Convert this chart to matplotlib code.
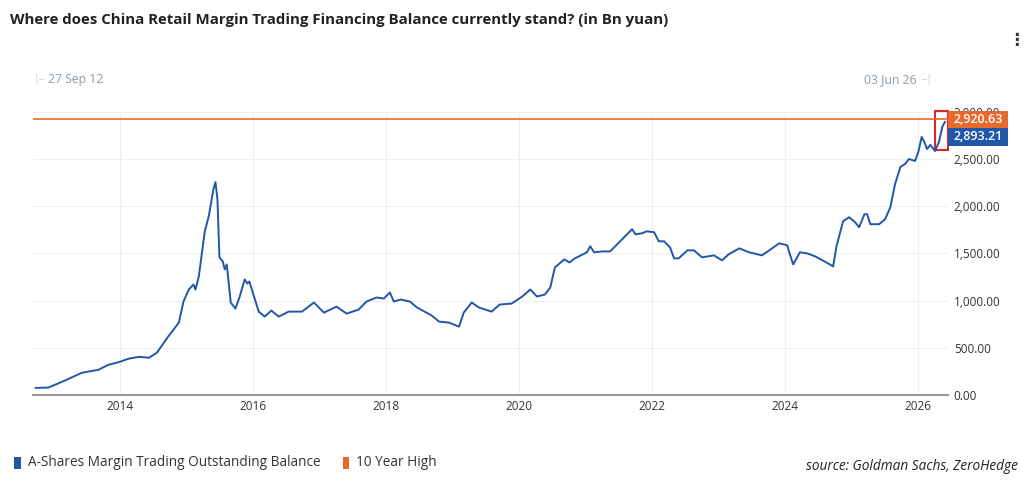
import matplotlib.pyplot as plt
from matplotlib.patches import Rectangle

plt.rcParams['font.family'] = ['Open Sans', 'DejaVu Sans']

# decimal years, values in Bn yuan
years = [2012.74, 2012.93, 2013.17, 2013.43, 2013.55, 2013.68, 2013.83, 2014.00, 2014.13, 2014.29,
         2014.44, 2014.56, 2014.74, 2014.89, 2014.96, 2015.04, 2015.11, 2015.14, 2015.19, 2015.28,
         2015.34, 2015.41, 2015.44, 2015.47, 2015.50, 2015.55, 2015.58, 2015.61, 2015.67, 2015.74,
         2015.80, 2015.88, 2015.92, 2015.95, 2016.01, 2016.09, 2016.18, 2016.28, 2016.39, 2016.54,
         2016.74, 2016.92, 2017.07, 2017.26, 2017.41, 2017.59, 2017.71, 2017.86, 2017.97, 2018.06,
         2018.12, 2018.22, 2018.36, 2018.47, 2018.69, 2018.80, 2018.95, 2019.10, 2019.17, 2019.29,
         2019.40, 2019.59, 2019.71, 2019.89, 2020.05, 2020.17, 2020.27, 2020.39, 2020.47, 2020.54,
         2020.68, 2020.76, 2020.84, 2021.02, 2021.07, 2021.13, 2021.25, 2021.37, 2021.55, 2021.70,
         2021.75, 2021.85, 2021.92, 2022.03, 2022.10, 2022.18, 2022.27, 2022.33, 2022.40, 2022.53,
         2022.63, 2022.75, 2022.93, 2023.05, 2023.15, 2023.31, 2023.46, 2023.65, 2023.76, 2023.91,
         2024.03, 2024.07, 2024.12, 2024.22, 2024.33, 2024.45, 2024.59, 2024.72, 2024.77, 2024.87,
         2024.96, 2025.05, 2025.11, 2025.19, 2025.23, 2025.28, 2025.41, 2025.50, 2025.58, 2025.65,
         2025.73, 2025.80, 2025.86, 2025.95, 2026.00, 2026.05, 2026.09, 2026.13, 2026.18, 2026.25,
         2026.31, 2026.36, 2026.40]
balance = [75, 78, 150, 234, 250, 266, 319, 350, 383, 404,
           394, 447, 628, 766, 990, 1117, 1170, 1117, 1255, 1734,
           1894, 2181, 2255, 2075, 1458, 1415, 1330, 1383, 979, 915,
           1032, 1224, 1180, 1202, 1064, 883, 830, 894, 830, 883,
           883, 979, 872, 936, 862, 904, 990, 1032, 1021, 1085,
           990, 1011, 990, 926, 841, 777, 766, 724, 872, 979,
           926, 883, 958, 968, 1043, 1117, 1043, 1064, 1138, 1351,
           1436, 1404, 1447, 1511, 1575, 1511, 1521, 1521, 1649, 1756,
           1702, 1713, 1734, 1724, 1628, 1628, 1564, 1447, 1447, 1532,
           1532, 1458, 1479, 1426, 1490, 1553, 1511, 1479, 1532, 1607,
           1585, 1490, 1383, 1511, 1500, 1468, 1415, 1362, 1575, 1841,
           1883, 1830, 1777, 1915, 1915, 1809, 1809, 1862, 1990, 2234,
           2415, 2447, 2500, 2479, 2575, 2734, 2681, 2606, 2649, 2585,
           2681, 2840, 2893.21]
ten_year_high = 2920.63

year_ticks = [2014, 2016, 2018, 2020, 2022, 2024, 2026]
value_ticks = [0, 500, 1000, 1500, 2000, 2500, 3000]

blue = '#2256a8'
orange = '#e8692c'
grey_txt = '#8c9aab'

fig = plt.figure(figsize=(10.33, 4.84), dpi=100)
ax = fig.add_axes([0.032, 0.184, 0.886, 0.585])

ax.plot(years, balance, color=blue, lw=1.4)
ax.axhline(ten_year_high, color=orange, lw=1.2)

ax.set_xlim(2012.7, 2026.45)
ax.set_ylim(0, 3000)
ax.set_xticks(year_ticks)
ax.set_xticklabels([str(y) for y in year_ticks], fontsize=8.5, color='#333333')
ax.set_yticks(value_ticks)
ax.set_yticklabels(['{:,.2f}'.format(v) for v in value_ticks], fontsize=8.5, color='#333333')
ax.yaxis.tick_right()
ax.tick_params(axis='both', length=0, pad=4)
ax.tick_params(axis='y', pad=4)
ax.grid(True, color='#eeeeee', lw=0.8)
ax.set_axisbelow(True)
for s in ['top', 'left', 'right']:
    ax.spines[s].set_visible(False)
ax.spines['bottom'].set_color('#999999')
ax.spines['bottom'].set_linewidth(1.5)

# highlight box around latest move
ax.add_patch(Rectangle((2026.25, 2600), 0.2, 410, fill=False, edgecolor='#d62a2a', lw=1.5, clip_on=False))

# value labels on the right axis (x in axes fraction, y in data)
yt = ax.get_yaxis_transform()
ax.add_patch(Rectangle((1.0, 2830), 0.065, 175, transform=yt, fc=orange, ec='none', clip_on=False, zorder=5))
ax.add_patch(Rectangle((1.0, 2640), 0.065, 190, transform=yt, fc=blue, ec='none', clip_on=False, zorder=5))
ax.text(1.0325, 2917, '{:,.2f}'.format(ten_year_high), transform=yt, fontsize=9, color='white',
        fontweight='semibold', va='center', ha='center', zorder=6)
ax.text(1.0325, 2735, '{:,.2f}'.format(balance[-1]), transform=yt, fontsize=9, color='white',
        fontweight='semibold', va='center', ha='center', zorder=6)

fig.text(0.010, 0.958, 'Where does China Retail Margin Trading Financing Balance currently stand? (in Bn yuan)',
         fontsize=10.8, fontweight='bold', color='#222222', va='center')
fig.text(0.984, 0.918, '\u22ee', fontsize=12, fontweight='bold', color='#333333', ha='center', va='center')

fig.text(0.032, 0.836, '|\u2013', fontsize=7.5, color='#c5ccd5', va='center')
fig.text(0.046, 0.836, '27 Sep 12', fontsize=8.8, color=grey_txt, va='center')
fig.text(0.887, 0.836, '03 Jun 26', fontsize=8.8, color=grey_txt, va='center', ha='right')
fig.text(0.892, 0.836, '\u2013|', fontsize=7.5, color='#c5ccd5', va='center')

# legend
fig.patches.append(Rectangle((0.014, 0.032), 0.006, 0.024, transform=fig.transFigure, fc=blue, ec='none'))
fig.text(0.027, 0.044, 'A-Shares Margin Trading Outstanding Balance', fontsize=9.8, color='#333333', va='center')
fig.patches.append(Rectangle((0.332, 0.032), 0.006, 0.024, transform=fig.transFigure, fc=orange, ec='none'))
fig.text(0.345, 0.044, '10 Year High', fontsize=9.8, color='#333333', va='center')
fig.text(0.985, 0.037, 'source: Goldman Sachs, ZeroHedge', fontsize=9.8, style='italic', color='#222222',
         va='center', ha='right')

fig.savefig('out.png', dpi=100, facecolor='white')
